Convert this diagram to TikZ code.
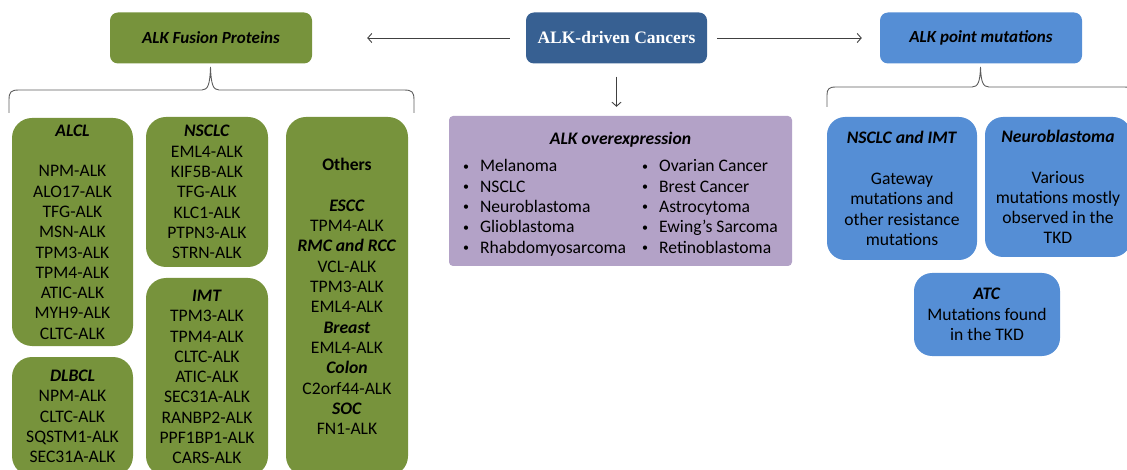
\documentclass[tikz,border=0pt]{standalone}
\usepackage{fontspec}
\setmainfont{Carlito}
\newfontfamily\ttlserif{Liberation Serif}
\usetikzlibrary{arrows.meta}
\definecolor{fusiongreen}{HTML}{77933C}
\definecolor{cancerblue}{HTML}{376092}
\definecolor{mutblue}{HTML}{558ED5}
\definecolor{overpurple}{HTML}{B3A2C7}
\definecolor{linegrey}{HTML}{404040}
\newcommand{\hd}[1]{\textbf{\textit{#1}}}
\newcommand{\bul}{\makebox[17pt][l]{\raisebox{1.5pt}{\fontsize{12}{12}\selectfont\textbullet}}}

\begin{document}
\begin{tikzpicture}[x=1pt, y=-1pt,
  every node/.style={font=\fontsize{17.6}{20.3}\selectfont, inner sep=0pt,
    align=center, text=black},
  topbox/.style={rounded corners=8pt, minimum width=202pt, minimum height=51pt},
  fusbox/.style={fill=fusiongreen, rounded corners=20pt, minimum width=121pt},
  mutbox/.style={fill=mutblue, rounded corners=18pt, minimum width=148pt},
  arr/.style={-{Straight Barb[length=4pt,width=9pt]}, linegrey, line width=0.9pt},
  brace/.style={draw=linegrey!85, line width=0.9pt}]
\useasboundingbox (0,0) rectangle (1127,470);
\clip (0,0) rectangle (1127,470);

% top row
\node[topbox, fill=fusiongreen, font=\fontsize{17}{20}\selectfont] (fusion) at (211,38)
  {\hd{ALK Fusion Proteins}};
\node[topbox, fill=cancerblue, minimum width=181pt,
      font=\ttlserif\fontsize{17.5}{20}\selectfont\bfseries, text=white]
  (cancers) at (616.5,38) {ALK-driven Cancers};
\node[topbox, fill=mutblue, font=\fontsize{17}{20}\selectfont] (pointmut) at (981,38)
  {\hd{ALK point mutations}};

\foreach \src/\dst/\pre/\post in {cancers/fusion/16/55, cancers/pointmut/10/18}
  \draw[arr, shorten <=\pre pt, shorten >=\post pt] (\src) -- (\dst);

% fusion proteins
\node[fusbox, minimum height=228pt] (alcl) at (72.5,232)
  {\hd{ALCL}\\[20.3pt]NPM-ALK\\ALO17-ALK\\TFG-ALK\\MSN-ALK\\TPM3-ALK\\
   TPM4-ALK\\ATIC-ALK\\MYH9-ALK\\CLTC-ALK};
\node[fusbox, minimum height=119pt] (dlbcl) at (72.5,416.5)
  {\hd{DLBCL}\\NPM-ALK\\CLTC-ALK\\SQSTM1-ALK\\SEC31A-ALK};
\node[fusbox, minimum width=122pt, minimum height=150pt] (nsclc) at (207,192)
  {\hd{NSCLC}\\EML4-ALK\\KIF5B-ALK\\TFG-ALK\\KLC1-ALK\\PTPN3-ALK\\STRN-ALK};
\node[fusbox, minimum width=122pt, minimum height=198pt] (imt) at (207,377)
  {\hd{IMT}\\TPM3-ALK\\TPM4-ALK\\CLTC-ALK\\ATIC-ALK\\SEC31A-ALK\\RANBP2-ALK\\
   PPF1BP1-ALK\\CARS-ALK};
\node[fusbox, minimum width=122pt, minimum height=359pt] (others) at (347,296.5)
  {\textbf{Others}\\[20.3pt]\hd{ESCC}\\TPM4-ALK\\\hd{RMC and RCC}\\VCL-ALK\\
   TPM3-ALK\\EML4-ALK\\\hd{Breast}\\EML4-ALK\\\hd{Colon}\\C2orf44-ALK\\
   \hd{SOC}\\FN1-ALK};

\draw[brace] (9,113) -- (9,100) .. controls (9,92) and (11,90) .. (19,90)
  -- (202,90) .. controls (208,90) and (210,84) .. (210.5,67)
  .. controls (211,84) and (213,90) .. (219,90) -- (404,90)
  .. controls (412,90) and (414,92) .. (414,100) -- (414,113);

% overexpression
\node[fill=overpurple, rounded corners=4pt, minimum width=343pt,
      minimum height=150pt] (over) at (620.5,191)
  {\rule{0pt}{22pt}\hd{ALK overexpression}\\[9pt]
   \begin{tabular}{@{}p{179pt}@{}l@{}}
   \bul Melanoma & \bul Ovarian Cancer\\
   \bul NSCLC & \bul Brest Cancer\\
   \bul Neuroblastoma & \bul Astrocytoma\\
   \bul Glioblastoma & \bul Ewing's Sarcoma\\
   \bul Rhabdomyosarcoma & \bul Retinoblastoma
   \end{tabular}};
\draw[arr, shorten <=13pt, shorten >=9pt] (cancers.south) -- (cancers.south |- over.north);

% point mutations
\node[mutbox, minimum width=150pt, minimum height=143pt] (nsclcimt) at (902,188.5)
  {\hd{NSCLC and IMT}\\[20.3pt]Gateway\\mutations and\\other resistance\\mutations};
\node[mutbox, minimum width=146pt, minimum height=140pt] (neuro) at (1058,187)
  {\hd{Neuroblastoma}\\[20.3pt]Various\\mutations mostly\\observed in the\\TKD};
\node[mutbox, minimum width=146pt, minimum height=83pt] (atc) at (987,314.5)
  {\hd{ATC}\\Mutations found\\in the TKD};

\draw[brace] (827,107) -- (827,95) .. controls (827,89) and (829,87) .. (836,87)
  -- (972,87) .. controls (978,87) and (980,82) .. (980.5,67)
  .. controls (981,82) and (983,87) .. (989,87) -- (1124,87)
  .. controls (1131,87) and (1133,89) .. (1133,95) -- (1133,107);
\end{tikzpicture}
\end{document}
